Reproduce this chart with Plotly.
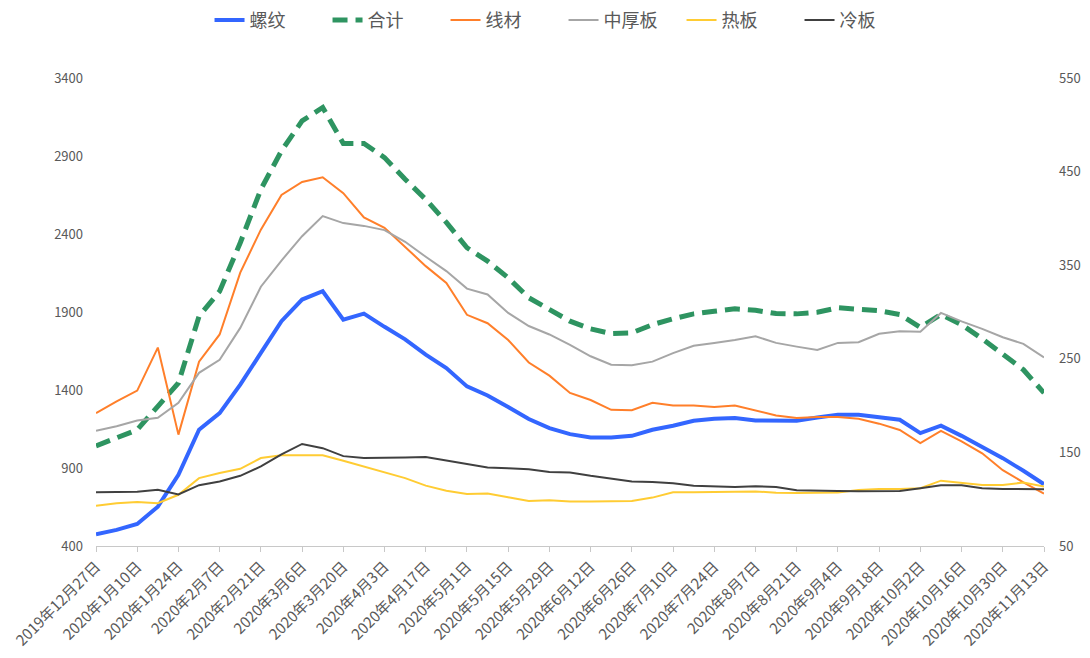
import plotly.graph_objects as go

dates = ["2019年12月27日", "2020年1月3日", "2020年1月10日", "2020年1月17日", "2020年1月24日", "2020年1月31日",
         "2020年2月7日", "2020年2月14日", "2020年2月21日", "2020年2月28日", "2020年3月6日", "2020年3月13日",
         "2020年3月20日", "2020年3月27日", "2020年4月3日", "2020年4月10日", "2020年4月17日", "2020年4月24日",
         "2020年5月1日", "2020年5月8日", "2020年5月15日", "2020年5月22日", "2020年5月29日", "2020年6月5日",
         "2020年6月12日", "2020年6月19日", "2020年6月26日", "2020年7月3日", "2020年7月10日", "2020年7月17日",
         "2020年7月24日", "2020年7月31日", "2020年8月7日", "2020年8月14日", "2020年8月21日", "2020年8月28日",
         "2020年9月4日", "2020年9月11日", "2020年9月18日", "2020年9月25日", "2020年10月2日", "2020年10月9日",
         "2020年10月16日", "2020年10月23日", "2020年10月30日", "2020年11月6日", "2020年11月13日"]

# left axis
luowen = [475, 503, 541, 652, 856, 1145, 1252, 1434, 1638, 1841, 1980, 2033, 1851, 1890, 1805, 1725,
          1627, 1541, 1423, 1365, 1291, 1214, 1156, 1117, 1096, 1096, 1106, 1145, 1171, 1203, 1216,
          1220, 1205, 1203, 1203, 1224, 1241, 1241, 1224, 1209, 1124, 1171, 1106, 1034, 963, 882, 796]
heji = [1042, 1092, 1145, 1295, 1445, 1873, 2033, 2344, 2686, 2933, 3125, 3211, 2980, 2980, 2890, 2751,
        2622, 2474, 2312, 2226, 2119, 1991, 1916, 1841, 1792, 1762, 1766, 1819, 1856, 1888, 1905,
        1920, 1911, 1890, 1888, 1898, 1927, 1922, 1909, 1884, 1802, 1884, 1819, 1728, 1627, 1530, 1381]
# right axis
xiancai = [192, 204.5, 216, 262, 169, 247, 276, 342, 388, 425, 439, 444, 427, 401, 390, 369,
           349, 331, 297, 288, 270, 246, 232, 213.5, 206, 195.5, 195, 203, 200, 200, 198.5,
           200, 195, 189.5, 186.7, 187.7, 187.7, 186, 180.7, 174, 160, 173, 161.7, 149, 131, 118, 106]
zhonghouban = [173, 178, 184, 187, 203, 235, 249, 283, 327, 355, 381, 402.5, 395, 392, 387.5, 375,
               359, 343.7, 325, 318.7, 299, 285, 276, 265, 252.7, 243.7, 243, 247, 256, 264, 267,
               270, 274, 267, 263, 259.5, 267, 267.7, 276.7, 279.5, 279, 299, 290, 282, 273, 266, 251.5]
reban = [93, 95.7, 97, 95.7, 104.7, 122.5, 128, 132.5, 144, 147, 147, 147, 141, 135, 128.5, 122.5,
         114.5, 109, 105.5, 106, 102, 98, 99, 97.5, 97.5, 97.5, 98, 101.7, 107.5, 107.3, 107.3,
         108, 108.3, 107, 106.7, 106.7, 107.2, 109.7, 111, 111, 111.7, 119.8, 117.8, 115.3, 115.3, 117.8, 113.5]
lengban = [107.5, 107.5, 108, 110, 105, 115, 119, 125, 135, 148, 159, 154.5, 146, 144, 144, 144.5,
           145, 141, 137.5, 133.8, 133, 132, 129, 128.5, 125, 122, 119, 118.5, 117, 114.5, 113.5,
           113, 113.8, 113, 109.5, 109.5, 108.8, 108.5, 108.5, 108.8, 111.7, 115, 114.8, 111.7, 111, 110.7, 110.7]

tick_labels = dates[::2]

FONT = "Noto Sans CJK SC"
TXT = "#595959"

fig = go.Figure()
fig.add_trace(go.Scatter(x=dates, y=luowen, name="螺纹", mode="lines",
                         line=dict(color="#3366FF", width=4), yaxis="y"))
fig.add_trace(go.Scatter(x=dates, y=heji, name="合计", mode="lines",
                         line=dict(color="#2E9461", width=5, dash="15px,8px"), yaxis="y"))
fig.add_trace(go.Scatter(x=dates, y=xiancai, name="线材", mode="lines",
                         line=dict(color="#FF7F2A", width=2), yaxis="y2"))
fig.add_trace(go.Scatter(x=dates, y=zhonghouban, name="中厚板", mode="lines",
                         line=dict(color="#A6A6A6", width=2), yaxis="y2"))
fig.add_trace(go.Scatter(x=dates, y=reban, name="热板", mode="lines",
                         line=dict(color="#FFCC33", width=2), yaxis="y2"))
fig.add_trace(go.Scatter(x=dates, y=lengban, name="冷板", mode="lines",
                         line=dict(color="#404040", width=2), yaxis="y2"))

fig.update_layout(
    width=1090, height=658,
    margin=dict(l=96, r=46, t=78, b=112, autoexpand=False),
    paper_bgcolor="white", plot_bgcolor="white",
    font=dict(family=FONT, color=TXT, size=13),
    showlegend=True,
    legend=dict(orientation="h", x=0.517, xanchor="center", xref="container",
                y=0.969, yanchor="middle", yref="container",
                entrywidth=73, entrywidthmode="pixels",
                font=dict(size=18, color=TXT, family=FONT), bgcolor="rgba(0,0,0,0)"),
    xaxis=dict(type="category", categoryorder="array", categoryarray=dates,
               range=[0, len(dates) - 1], tickmode="array", tickvals=tick_labels, ticktext=tick_labels,
               tickangle=-45, showline=True, linecolor="#C8C8C8", linewidth=1,
               ticks="outside", ticklen=5, tickcolor="#C8C8C8", showgrid=False, zeroline=False,
               automargin=False, tickfont=dict(size=15, color=TXT, family=FONT)),
    yaxis=dict(range=[400, 3400], tickmode="linear", tick0=400, dtick=500, showgrid=False,
               zeroline=False, showline=False, ticks="", ticklabelstandoff=12, automargin=False,
               tickfont=dict(size=13, color=TXT, family=FONT)),
    yaxis2=dict(range=[50, 550], tickmode="linear", tick0=50, dtick=100, overlaying="y", side="right",
                showgrid=False, zeroline=False, showline=False, ticks="", ticklabelstandoff=14,
                automargin=False, tickfont=dict(size=13, color=TXT, family=FONT)),
)

fig.write_html("out.html", config={"displayModeBar": False},
               post_script="document.body.style.margin='0';document.body.style.overflow='hidden';")
